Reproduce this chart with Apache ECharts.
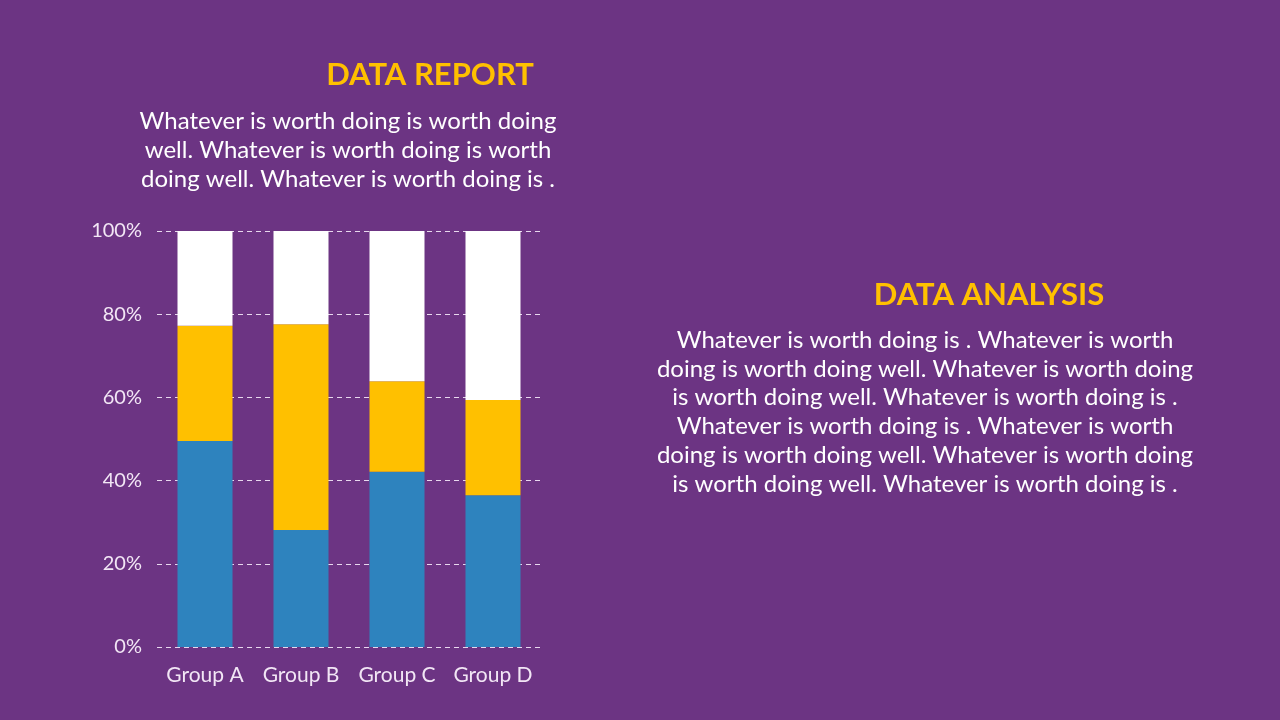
<!DOCTYPE html>
<html>
<head>
<meta charset="utf-8">
<script src="https://cdn.jsdelivr.net/npm/echarts@6/dist/echarts.min.js"></script>
<style>
html,body{margin:0;padding:0;background:#6C3483;}
#main{width:1280px;height:720px;}
</style>
</head>
<body>
<div id="main"></div>
<script>
const categories = ['Group A', 'Group B', 'Group C', 'Group D'];
const seriesBlue = [49.5, 28.1, 42.1, 36.5];
const seriesYellow = [27.7, 49.5, 21.8, 22.9];
const seriesWhite = [22.8, 22.4, 36.1, 40.6];
const yTicks = ['0%', '20%', '40%', '60%', '80%', '100%'];

const title1 = 'DATA REPORT';
const para1 = 'Whatever is worth doing is worth doing\nwell. Whatever is worth doing is worth\ndoing well. Whatever is worth doing is .';
const title2 = 'DATA ANALYSIS';
const para2 = 'Whatever is worth doing is . Whatever is worth\ndoing is worth doing well. Whatever is worth doing\nis worth doing well. Whatever is worth doing is .\nWhatever is worth doing is . Whatever is worth\ndoing is worth doing well. Whatever is worth doing\nis worth doing well. Whatever is worth doing is .';

const FONT = 'Lato, "Open Sans", sans-serif';
const chart = echarts.init(document.getElementById('main'));
chart.setOption({
  backgroundColor: '#6C3483',
  animation: false,
  grid: { left: 157, right: 739, top: 231, bottom: 73 },
  xAxis: {
    type: 'category',
    data: categories,
    axisLine: { show: false },
    axisTick: { show: false },
    axisLabel: { color: '#F2E6F5', fontSize: 21, fontFamily: FONT, margin: 18, interval: 0, hideOverlap: false }
  },
  yAxis: {
    type: 'value',
    min: 0, max: 100, interval: 20,
    axisLine: { show: false },
    axisTick: { show: false },
    axisLabel: {
      color: '#F2E6F5', fontSize: 20, fontFamily: FONT, margin: 15,
      formatter: v => yTicks[Math.round(v / 20)]
    },
    splitLine: { lineStyle: { color: '#E8D8EE', type: [5, 4], width: 1 } }
  },
  series: [
    { name: 'S1', type: 'bar', stack: 'a', data: seriesBlue, barWidth: 55, itemStyle: { color: '#2E83BE' } },
    { name: 'S2', type: 'bar', stack: 'a', data: seriesYellow, barWidth: 55, itemStyle: { color: '#FFC000' } },
    { name: 'S3', type: 'bar', stack: 'a', data: seriesWhite, barWidth: 55, itemStyle: { color: '#FFFFFF' } }
  ],
  graphic: [
    { type: 'text', x: 430, y: 75, style: { text: title1, fill: '#FFC000', font: 'bold 31px ' + FONT, textAlign: 'center', textVerticalAlign: 'middle' } },
    { type: 'text', x: 348, y: 150, style: { text: para1, fill: '#FFFFFF', font: '24px ' + FONT, lineHeight: 29, textAlign: 'center', textVerticalAlign: 'middle' } },
    { type: 'text', x: 989, y: 295, style: { text: title2, fill: '#FFC000', font: 'bold 31px ' + FONT, textAlign: 'center', textVerticalAlign: 'middle' } },
    { type: 'text', x: 925, y: 412, style: { text: para2, fill: '#FFFFFF', font: '24px ' + FONT, lineHeight: 28.8, textAlign: 'center', textVerticalAlign: 'middle' } }
  ]
});
</script>
</body>
</html>
